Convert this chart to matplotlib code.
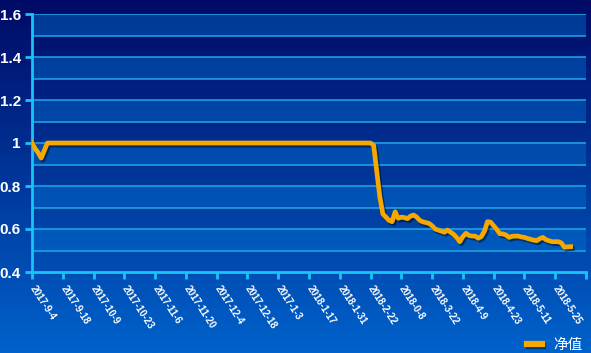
import numpy as np
import matplotlib
matplotlib.use("Agg")
import matplotlib.pyplot as plt
import matplotlib.patheffects as pe
from matplotlib.colors import LinearSegmentedColormap

# net value series, one point per trading day
net_value = [
    1.0, 0.975, 0.955, 0.93, 0.965, 1.0, 1.0, 1.0, 1.0, 1.0,
    1.0, 1.0, 1.0, 1.0, 1.0, 1.0, 1.0, 1.0, 1.0, 1.0,
    1.0, 1.0, 1.0, 1.0, 1.0, 1.0, 1.0, 1.0, 1.0, 1.0,
    1.0, 1.0, 1.0, 1.0, 1.0, 1.0, 1.0, 1.0, 1.0, 1.0,
    1.0, 1.0, 1.0, 1.0, 1.0, 1.0, 1.0, 1.0, 1.0, 1.0,
    1.0, 1.0, 1.0, 1.0, 1.0, 1.0, 1.0, 1.0, 1.0, 1.0,
    1.0, 1.0, 1.0, 1.0, 1.0, 1.0, 1.0, 1.0, 1.0, 1.0,
    1.0, 1.0, 1.0, 1.0, 1.0, 1.0, 1.0, 1.0, 1.0, 1.0,
    1.0, 1.0, 1.0, 1.0, 1.0, 1.0, 1.0, 1.0, 1.0, 1.0,
    1.0, 1.0, 1.0, 1.0, 1.0, 1.0, 1.0, 1.0, 1.0, 1.0,
    1.0, 1.0, 1.0, 1.0, 1.0, 1.0, 1.0, 1.0, 1.0, 1.0,
    1.0, 0.99, 0.87, 0.75, 0.67, 0.655, 0.64, 0.634, 0.68, 0.65,
    0.655, 0.653, 0.648, 0.66, 0.665, 0.655, 0.64, 0.633, 0.63, 0.626,
    0.615, 0.60, 0.595, 0.59, 0.585, 0.595, 0.585, 0.575, 0.56, 0.541,
    0.565, 0.58, 0.57, 0.567, 0.567, 0.557, 0.565, 0.59, 0.634, 0.632,
    0.615, 0.598, 0.578, 0.577, 0.572, 0.561, 0.566, 0.567, 0.567, 0.563,
    0.561, 0.556, 0.552, 0.548, 0.546, 0.555, 0.561, 0.55, 0.545, 0.541,
    0.541, 0.541, 0.535, 0.515, 0.517, 0.518,
]

date_labels = [
    "2017-9-4", "2017-9-18", "2017-10-9", "2017-10-23", "2017-11-6",
    "2017-11-20", "2017-12-4", "2017-12-18", "2017-1-3", "2018-1-17",
    "2018-1-31", "2018-2-22", "2018-0-8", "2018-3-22", "2018-4-9",
    "2018-4-23", "2018-5-11", "2018-5-25",
]
label_step = 10
n_slots = 180

y_min, y_max = 0.4, 1.6
y_ticks = [0.4, 0.6, 0.8, 1, 1.2, 1.4, 1.6]
y_tick_labels = ["0.4", "0.6", "0.8", "1", "1.2", "1.4", "1.6"]

W, H = 591, 353
fig = plt.figure(figsize=(W / 100, H / 100), dpi=100)

# background gradient for the whole figure
bg = fig.add_axes([0, 0, 1, 1], zorder=-10)
bg_cmap = LinearSegmentedColormap.from_list("bg", ["#000a66", "#0062cc"])
bg.imshow(np.linspace(0, 1, 256).reshape(-1, 1), aspect="auto", cmap=bg_cmap,
          extent=[0, 1, 0, 1])
bg.set_axis_off()

left, right = 32 / W, 586 / W
bottom, top = 1 - 272 / H, 1 - 14 / H
ax = fig.add_axes([left, bottom, right - left, top - bottom])
ax.patch.set_alpha(0)

# alternating bands and grid lines every 0.1
levels = np.round(np.arange(y_min, y_max + 0.001, 0.1), 2)
for i in range(len(levels) - 1):
    if i % 2 == 1:
        ax.axhspan(levels[i], levels[i + 1], color="#0070d0", alpha=0.45,
                   lw=0, zorder=0)
for lv in levels[1:]:
    ax.axhline(lv, color="#1fa8e8", lw=1.1, zorder=1)

x = np.arange(len(net_value))
line, = ax.plot(x, net_value, color="#f7a800", lw=3.4, zorder=5,
                solid_joinstyle="round", label="净值")
line.set_path_effects([pe.SimpleLineShadow(offset=(1.2, -1.5),
                                           shadow_color="black", alpha=0.45),
                       pe.Normal()])

ax.set_xlim(0, n_slots)
ax.set_ylim(y_min, y_max)

ax.set_yticks(y_ticks)
ax.set_yticklabels(y_tick_labels)
ax.set_xticks(list(range(0, n_slots + 1, label_step)))
ax.set_xticklabels(date_labels + [""])

for s in ["top", "right"]:
    ax.spines[s].set_visible(False)
for s in ["left", "bottom"]:
    ax.spines[s].set_color("#19c3f5")
    ax.spines[s].set_linewidth(2)

ax.tick_params(axis="both", colors="#19c3f5", width=2, length=5)
ax.tick_params(axis="y", labelcolor="white", pad=3)
ax.tick_params(axis="x", labelcolor="white", pad=5)

for t in ax.get_yticklabels():
    t.set_fontfamily("Liberation Sans")
    t.set_fontweight("bold")
    t.set_fontsize(11)
for t in ax.get_xticklabels():
    t.set_fontfamily("Liberation Sans")
    t.set_fontweight("bold")
    t.set_fontsize(7)
    t.set_rotation(-57)
    t.set_rotation_mode("anchor")
    t.set_ha("left")
    t.set_va("center")

leg = fig.legend(loc="lower right", bbox_to_anchor=(1.008, -0.035),
                 frameon=False, handlelength=1.0, handletextpad=0.8,
                 prop={"family": ["Noto Sans CJK SC", "DejaVu Sans"], "size": 10.5})
for t in leg.get_texts():
    t.set_color("white")
for h in leg.legend_handles:
    h.set_linewidth(4.5)
    h.set_path_effects([pe.SimpleLineShadow(offset=(1.2, -1.5),
                                            shadow_color="black", alpha=0.45),
                        pe.Normal()])

fig.savefig("out.png", dpi=100)
